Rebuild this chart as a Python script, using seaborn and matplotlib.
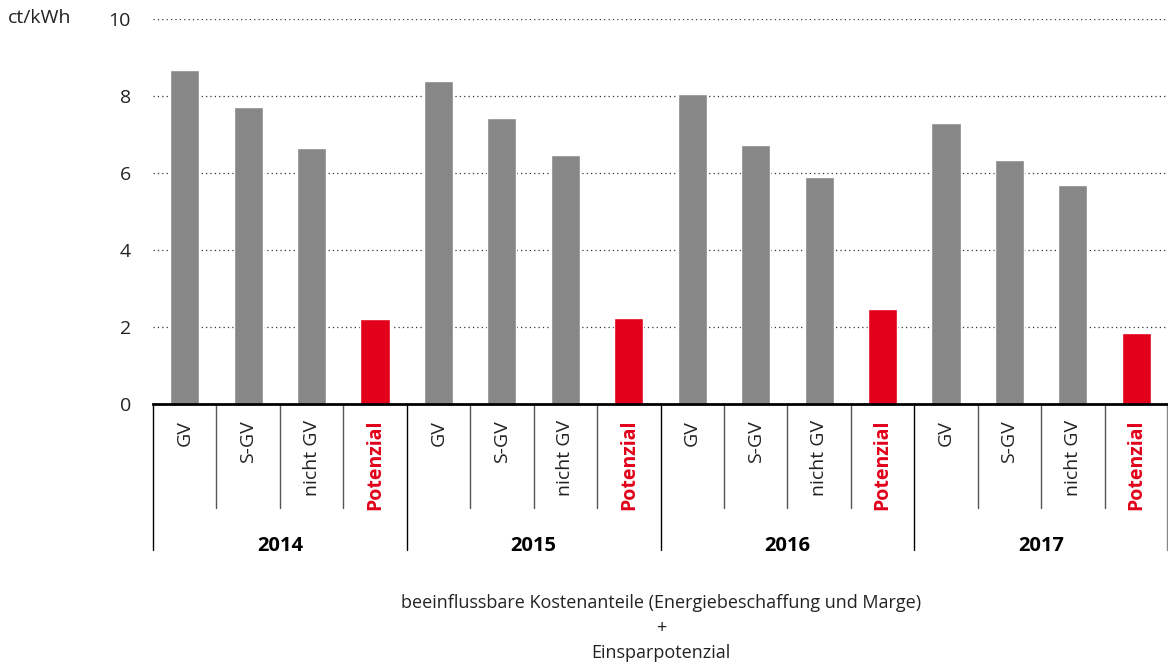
import numpy as np
import pandas as pd
import matplotlib
matplotlib.use("Agg")
import matplotlib.pyplot as plt
import matplotlib.transforms as mtransforms
import seaborn as sns

sns.set_style("white")
plt.rcParams['font.family'] = ['Open Sans', 'DejaVu Sans']

# Daten (ct/kWh)
jahre = ['2014', '2015', '2016', '2017']
kategorien = ['GV', 'S-GV', 'nicht GV', 'Potenzial']
werte_gv = [8.68, 8.39, 8.05, 7.30]
werte_sgv = [7.71, 7.43, 6.73, 6.34]
werte_nicht_gv = [6.65, 6.47, 5.90, 5.69]
werte_potenzial = [2.21, 2.23, 2.47, 1.84]

GRAU = '#878787'
ROT = '#E2001A'

rows = []
for i, j in enumerate(jahre):
    for k, v in zip(kategorien, [werte_gv[i], werte_sgv[i], werte_nicht_gv[i], werte_potenzial[i]]):
        rows.append({'key': j + ' ' + k, 'jahr': j, 'kat': k, 'wert': v,
                     'art': 'Potenzial' if k == 'Potenzial' else 'Kosten'})
df = pd.DataFrame(rows)

fig = plt.figure(figsize=(11.68, 6.67), dpi=100)
ax = fig.add_axes([153 / 1168, 1 - 404 / 667, 1 - 153 / 1168, 385 / 667])

sns.barplot(data=df, x='key', y='wert', hue='art', order=list(df['key']),
            palette={'Kosten': GRAU, 'Potenzial': ROT}, dodge=False,
            width=0.46, saturation=1, legend=False, ax=ax, zorder=3)

ax.set_xlim(-0.5, len(df) - 0.5)
ax.set_ylim(0, 10)
ax.set_yticks([0, 2, 4, 6, 8, 10])
ax.set_yticklabels(['0', '2', '4', '6', '8', '10'], fontsize=14, color='#222222')
ax.tick_params(axis='y', length=0, pad=16)
ax.set_xticks([])
ax.set_xlabel('')
ax.set_ylabel('')
for y in [2, 4, 6, 8, 10]:
    ax.axhline(y, color='#333333', lw=0.9, ls=(0, (1, 2.5)), zorder=1)
for s in ['top', 'right', 'left']:
    ax.spines[s].set_visible(False)
ax.spines['bottom'].set_linewidth(2)
ax.spines['bottom'].set_color('black')
ax.spines['bottom'].set_zorder(5)

trans = mtransforms.blended_transform_factory(ax.transData, ax.transAxes)
h = 385.0
for idx, r in df.iterrows():
    pot = r['kat'] == 'Potenzial'
    ax.text(idx, -16 / h, r['kat'], rotation=90, ha='center', va='top',
            transform=trans, fontsize=14, clip_on=False,
            color=ROT if pot else '#222222', fontweight='bold' if pot else 'normal')
    # Trennlinien
    if idx > 0:
        if idx % 4 == 0:
            ax.plot([idx - 0.5, idx - 0.5], [0, -146 / h], transform=trans,
                    color='black', lw=1, clip_on=False)
        else:
            ax.plot([idx - 0.5, idx - 0.5], [0, -104 / h], transform=trans,
                    color='#555555', lw=1, clip_on=False)
ax.plot([-0.5, -0.5], [0, -146 / h], transform=trans, color='black', lw=1, clip_on=False)
ax.plot([len(df) - 0.52, len(df) - 0.52], [0, -146 / h], transform=trans,
        color='#888888', lw=1, clip_on=False)

for i, j in enumerate(jahre):
    ax.text(i * 4 + 1.5, -142 / h, j, ha='center', va='center', transform=trans,
            fontsize=14.5, fontweight='bold', color='black', clip_on=False)

fig.text(8 / 1168, 1 - 18 / 667, 'ct/kWh', ha='left', va='center', fontsize=14, color='#222222')

fig.text(661 / 1168, 1 - 603 / 667, 'beeinflussbare Kostenanteile (Energiebeschaffung und Marge)',
         ha='center', va='center', fontsize=13, color='#222222')
fig.text(661 / 1168, 1 - 628 / 667, '+', ha='center', va='center', fontsize=13, color='#222222')
fig.text(661 / 1168, 1 - 653 / 667, 'Einsparpotenzial', ha='center', va='center',
         fontsize=13, color='#222222')

fig.savefig('out.png', dpi=100)
